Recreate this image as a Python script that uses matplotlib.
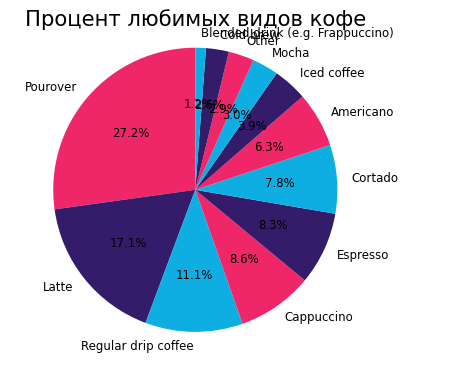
import matplotlib
matplotlib.use('Agg')
import matplotlib.pyplot as plt

# Coffee preference shares (%)
labels = ['Pourover', 'Latte', 'Regular drip coffee', 'Cappuccino', 'Espresso',
          'Cortado', 'Americano', 'Iced coffee', 'Mocha', 'Other', 'Cold brew',
          'Blended drink (e.g. Frappuccino)']
shares = [27.2, 17.1, 11.1, 8.6, 8.3, 7.8, 6.3, 3.9, 3.0, 2.9, 2.6, 1.2]
palette = ['#EF2768', '#351C6B', '#0EAEE2']

fig = plt.figure(figsize=(4.5, 3.7), dpi=100)
ax = fig.add_axes([0.039, 0.007, 0.79, 0.96])
colors = [palette[i % 3] for i in range(len(shares))]
ax.pie(shares, labels=labels, colors=colors, autopct='%1.1f%%', startangle=90,
       textprops={'fontsize': 8.5})
ax.set_aspect('equal')
fig.text(0.055, 0.93, 'Процент любимых видов кофе', fontsize=15.2)

fig.savefig('out.png', dpi=100)
